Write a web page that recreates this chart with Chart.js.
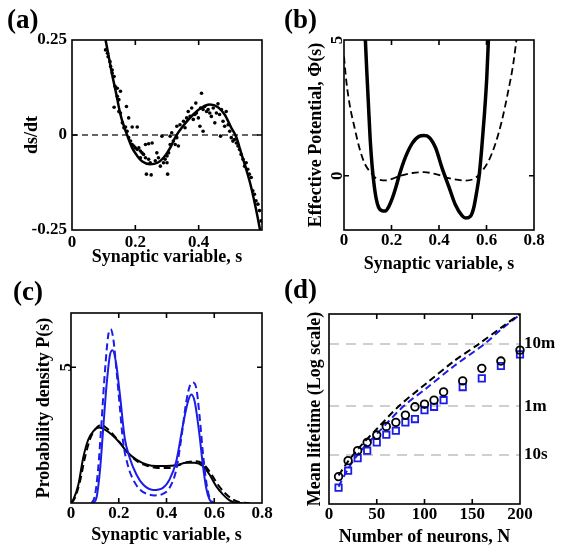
<!DOCTYPE html>
<html>
<head>
<meta charset="utf-8">
<script src="https://cdn.jsdelivr.net/npm/chart.js@4.4.1/dist/chart.umd.min.js"></script>
<style>
  body { margin:0; background:#fff; }
  #fig { position:relative; width:568px; height:550px; overflow:hidden; background:#fff; }
  #fig canvas { position:absolute; }
  .tag { position:absolute; font:bold 27px "Liberation Serif", serif; line-height:1; color:#000; }
</style>
</head>
<body>
<div id="fig">
  <canvas id="chartA" width="284" height="275" style="left:0;top:0;width:284px;height:275px"></canvas>
  <canvas id="chartB" width="284" height="275" style="left:284px;top:0;width:284px;height:275px"></canvas>
  <canvas id="chartC" width="284" height="275" style="left:0;top:275px;width:284px;height:275px"></canvas>
  <canvas id="chartD" width="284" height="275" style="left:284px;top:275px;width:284px;height:275px"></canvas>
  <div class="tag" style="left:7px;top:6px">(a)</div>
  <div class="tag" style="left:284px;top:6px">(b)</div>
  <div class="tag" style="left:13px;top:278px">(c)</div>
  <div class="tag" style="left:284px;top:276px">(d)</div>
</div>
<script>
// =======================
// DATA
// =======================
// (a) ds/dt vs s : simulation dots + fitted curve
const sDots = [0.106,0.112,0.114,0.120,0.122,0.127,0.127,0.133,0.136,0.143,0.153,0.143,0.148,0.133,0.148,0.172,0.179,0.153,0.159,0.164,0.169,0.190,0.206,0.174,0.179,0.185,0.190,0.195,0.200,0.206,0.211,0.216,0.221,0.232,0.242,0.253,0.226,0.216,0.232,0.242,0.247,0.263,0.268,0.273,0.279,0.289,0.294,0.300,0.305,0.300,0.235,0.250,0.302,0.284,0.310,0.315,0.310,0.320,0.326,0.331,0.336,0.331,0.341,0.352,0.357,0.362,0.367,0.373,0.378,0.383,0.388,0.393,0.391,0.399,0.404,0.409,0.414,0.406,0.414,0.419,0.425,0.430,0.435,0.440,0.446,0.451,0.456,0.461,0.466,0.472,0.477,0.487,0.482,0.493,0.469,0.498,0.503,0.508,0.513,0.519,0.524,0.529,0.534,0.540,0.545,0.550,0.555,0.560,0.566,0.571,0.576,0.581,0.587,0.592,0.597];
const vDots = [0.224,0.215,0.206,0.193,0.180,0.171,0.163,0.154,0.128,0.123,0.115,0.102,0.093,0.073,0.062,0.075,0.045,0.058,0.032,0.019,0.021,0.021,0.021,0.010,-0.007,-0.016,-0.025,-0.029,-0.034,-0.038,-0.034,-0.042,-0.047,-0.025,-0.023,-0.021,-0.051,-0.060,-0.060,-0.064,-0.073,-0.068,-0.047,-0.060,-0.082,-0.073,-0.064,-0.055,-0.047,-0.073,-0.103,-0.105,-0.103,-0.003,-0.003,0.006,-0.025,-0.016,-0.025,-0.007,-0.029,0.023,0.027,0.036,0.019,0.045,0.062,0.049,0.071,0.041,0.054,0.058,0.084,0.045,0.023,0.110,0.010,0.071,0.067,0.075,0.062,0.067,0.058,0.049,0.071,0.032,0.058,0.082,0.054,0.067,0.036,0.062,0.023,0.027,-0.003,0.010,-0.007,-0.016,-0.012,-0.021,-0.029,-0.038,-0.051,-0.064,-0.082,-0.073,-0.090,-0.103,-0.112,-0.147,-0.156,-0.173,-0.182,-0.199,-0.226];
const sFit = [0.106,0.117,0.127,0.138,0.153,0.164,0.174,0.190,0.206,0.222,0.247,0.270,0.289,0.310,0.326,0.352,0.378,0.404,0.435,0.461,0.482,0.503,0.519,0.534,0.550,0.566,0.581,0.594];
const vFit = [0.25,0.202,0.158,0.115,0.054,0.023,0,-0.034,-0.055,-0.070,-0.077,-0.073,-0.060,-0.034,-0.006,0.025,0.050,0.069,0.080,0.073,0.054,0.019,-0.006,-0.047,-0.090,-0.138,-0.195,-0.25];

// (b) effective potential
const sPhi = [0.090,0.096,0.103,0.110,0.118,0.125,0.135,0.146,0.160,0.174,0.188,0.204,0.220,0.232,0.260,0.288,0.316,0.337,0.358,0.386,0.413,0.441,0.469,0.497,0.513,0.532,0.546,0.559,0.569,0.580,0.591,0.601,0.608];
const phi = [5.0,3.84,2.61,1.38,0.40,-0.21,-0.82,-1.17,-1.29,-1.30,-1.15,-0.82,-0.38,0,0.71,1.20,1.45,1.48,1.42,1.02,0.28,-0.39,-1.07,-1.47,-1.56,-1.50,-1.19,-0.58,0,1.02,2.24,3.59,5.0];
const sPhiN = [0,0.010,0.024,0.045,0.065,0.086,0.114,0.135,0.177,0.232,0.288,0.337,0.386,0.441,0.511,0.552,0.580,0.608,0.636,0.664,0.691,0.712,0.726];
const phiN = [4.39,3.47,2.61,1.75,1.02,0.47,0.10,-0.09,-0.17,-0.02,0.10,0.13,0.06,-0.09,-0.18,-0.09,0.16,0.53,1.14,2.0,3.10,4.08,5.0];

// (c) probability density
const sBlue = [0.093,0.107,0.121,0.135,0.149,0.163,0.174,0.188,0.205,0.225,0.246,0.274,0.302,0.344,0.385,0.413,0.441,0.469,0.490,0.504,0.518,0.538,0.552,0.566,0.580,0.594];
const pBlue = [0,0.20,1.17,2.76,4.35,5.45,5.63,5.20,3.98,2.39,1.66,1.05,0.68,0.48,0.56,0.87,1.54,2.88,3.74,4.00,3.74,2.52,1.42,0.56,0.13,0];
const sBlueN = [0.086,0.100,0.114,0.128,0.142,0.156,0.166,0.177,0.191,0.205,0.218,0.239,0.260,0.288,0.323,0.351,0.385,0.413,0.441,0.462,0.483,0.499,0.511,0.525,0.538,0.552,0.566,0.580,0.597];
const pBlueN = [0,0.26,1.29,3.00,4.84,6.18,6.40,6.06,4.84,3.49,2.27,1.36,0.87,0.50,0.32,0.28,0.34,0.56,1.23,2.39,3.74,4.35,4.44,4.22,3.25,1.90,0.81,0.20,0];
const sBlack = [0,0.010,0.031,0.051,0.072,0.093,0.118,0.142,0.170,0.205,0.239,0.274,0.316,0.358,0.399,0.441,0.483,0.518,0.552,0.580,0.608,0.636,0.664,0.691,0.719];
const pBlack = [0,0.13,0.68,1.66,2.33,2.64,2.78,2.70,2.52,2.21,1.84,1.60,1.42,1.36,1.36,1.39,1.48,1.48,1.36,1.05,0.62,0.32,0.10,0.01,0];
const sBlackN = [0.003,0.017,0.038,0.058,0.079,0.100,0.128,0.149,0.177,0.212,0.246,0.281,0.323,0.365,0.406,0.448,0.490,0.525,0.559,0.587,0.615,0.643,0.678,0.712,0.747];
const pBlackN = [0,0.20,0.81,1.66,2.33,2.70,2.88,2.76,2.52,2.15,1.78,1.51,1.36,1.29,1.29,1.39,1.51,1.54,1.39,1.07,0.68,0.38,0.13,0.02,0];

// (d) mean lifetime (seconds) vs N
const nNeurons = [10,20,30,40,50,60,70,80,90,100,110,120,140,160,180,200];
const lifeCircle = [4.5,8.1,11.7,15.9,20.8,28.6,33.2,43.4,58.9,64.9,75.2,102,153,243,318,475];
const lifeSquare = [3.0,5.6,8.9,11.7,15.9,21.1,24.4,33.2,37.5,52.1,58.9,75.2,122,168,265,406];
const nTheoryBlack = [10,20,32,50,73,103,131,157,180,200];
const lifeTheoryBlack = [4.7,7.9,13.3,26,60,144,318,600,1080,1800];
const nTheoryBlue = [10,20,32,50,78,103,131,163,180,200];
const lifeTheoryBlue = [3.1,6.0,11,21.6,60,120,265,600,1014,1758];
const lifeTicks = [10, 60, 600];
const lifeTickLabels = ["10s", "1m", "10m"];

// =======================
// HELPERS
// =======================
const FONT = "'Liberation Serif', 'Times New Roman', serif";
const tickFont = {family: FONT, size: 17, weight: "bold"};
const titleFont = {family: FONT, size: 18, weight: "bold"};
const BLUE = "#1c1ce8";

function pts(xs, ys){
  return xs.map((x,i)=>({x:x, y:ys[i]}));
}

function fmt(v){
  return String(Math.round(v*100)/100);
}

function curve(data, color, width, dash){
  return {
    type:"line", data:data, borderColor:color, borderWidth:width,
    borderDash:dash || [], pointRadius:0, fill:false,
    cubicInterpolationMode:"monotone", clip:0
  };
}

function xAxis(min, max, ticks, boxH, tickPad, text, titlePad){
  return {
    type:"linear", min:min, max:max,
    afterBuildTicks: ax => { ax.ticks = ticks.map(v=>({value:v})); },
    afterFit: ax => { ax.height = boxH; },
    grid:{display:false, drawTicks:false}, border:{display:false},
    ticks:{font:tickFont, color:"#000", padding:tickPad, maxRotation:0, autoSkip:false, callback:v=>fmt(v)},
    title:{display:true, text:text, font:titleFont, color:"#000", padding:{top:0, bottom:titlePad}}
  };
}

function yAxis(min, max, ticks, boxW, tickPad, text, titlePad, rotated){
  return {
    type:"linear", min:min, max:max,
    afterBuildTicks: ax => { ax.ticks = ticks.map(v=>({value:v})); },
    afterFit: ax => { ax.width = boxW; },
    grid:{display:false, drawTicks:false}, border:{display:false},
    ticks:{
      font:tickFont, color:"#000", padding:tickPad, autoSkip:false,
      minRotation: rotated ? 90 : 0, maxRotation: rotated ? 90 : 0,
      crossAlign: rotated ? "center" : "near",
      callback:v=>fmt(v)
    },
    title:{display:true, text:text, font:titleFont, color:"#000", padding:{top:titlePad, bottom:0}}
  };
}

// box round the plot + small inward tick marks
const framePlugin = {
  id:"frame",
  afterDatasetsDraw(chart, args, opts){
    const {ctx, chartArea:a, scales} = chart;
    const len = 5;
    ctx.save();
    ctx.strokeStyle = "#000";
    ctx.lineWidth = 1.6;
    ctx.strokeRect(a.left, a.top, a.right - a.left, a.bottom - a.top);
    ctx.beginPath();
    (opts.xTicks || []).forEach(v=>{
      const px = scales.x.getPixelForValue(v);
      ctx.moveTo(px, a.bottom); ctx.lineTo(px, a.bottom - len);
      ctx.moveTo(px, a.top); ctx.lineTo(px, a.top + len);
    });
    (opts.yTicks || []).forEach(v=>{
      const py = scales.y.getPixelForValue(v);
      ctx.moveTo(a.left, py); ctx.lineTo(a.left + len, py);
      ctx.moveTo(a.right, py); ctx.lineTo(a.right - len, py);
    });
    ctx.stroke();
    ctx.restore();
  }
};

function baseOptions(padding, scales, frame){
  return {
    responsive:false, animation:false, devicePixelRatio:1,
    layout:{padding:padding},
    plugins:{legend:{display:false}, tooltip:{enabled:false}, frame:frame},
    scales:scales
  };
}

// =======================
// (a)
// =======================
new Chart(document.getElementById("chartA"), {
  type:"line",
  data:{datasets:[
    curve(pts(sFit, vFit), "#000", 2.5),
    {type:"scatter", data:pts(sDots, vDots), pointRadius:1.8, pointBackgroundColor:"#000", pointBorderWidth:0, showLine:false, clip:0},
    curve([{x:0,y:0},{x:0.6,y:0}], "#333", 1.5, [6,4])
  ]},
  options: baseOptions({left:0, top:40, right:22, bottom:0}, {
    x: xAxis(0, 0.6, [0, 0.2, 0.4], 45, 2, "Synaptic variable, s", 7),
    y: yAxis(-0.25, 0.25, [-0.25, 0, 0.25], 72, 5, "ds/dt", 22, false)
  }, {xTicks:[0.2, 0.4], yTicks:[0]}),
  plugins:[framePlugin]
});

// =======================
// (b)
// =======================
new Chart(document.getElementById("chartB"), {
  type:"line",
  data:{datasets:[
    curve(pts(sPhi, phi), "#000", 3.5),
    curve(pts(sPhiN, phiN), "#000", 1.8, [7,4])
  ]},
  options: baseOptions({left:0, top:40, right:34, bottom:0}, {
    x: xAxis(0, 0.8, [0, 0.2, 0.4, 0.6, 0.8], 45, 0, "Synaptic variable, s", 0),
    y: yAxis(-2, 5, [0, 5], 60, 2, "Effective Potential, \u03A6(s)", 22, true)
  }, {xTicks:[0.2, 0.4, 0.6], yTicks:[0]}),
  plugins:[framePlugin]
});

// =======================
// (c)
// =======================
new Chart(document.getElementById("chartC"), {
  type:"line",
  data:{datasets:[
    curve(pts(sBlue, pBlue), BLUE, 2),
    curve(pts(sBlueN, pBlueN), BLUE, 2, [7,4]),
    curve(pts(sBlack, pBlack), "#000", 2),
    curve(pts(sBlackN, pBlackN), "#000", 2, [7,4])
  ]},
  options: baseOptions({left:0, top:38, right:22, bottom:0}, {
    x: xAxis(0, 0.8, [0, 0.2, 0.4, 0.6, 0.8], 47, 0, "Synaptic variable, s", 4),
    y: yAxis(0, 7, [5], 71, 0, "Probability density P(s)", 34, true)
  }, {xTicks:[0.2, 0.4, 0.6], yTicks:[5]}),
  plugins:[framePlugin]
});

// =======================
// (d)
// =======================
new Chart(document.getElementById("chartD"), {
  type:"line",
  data:{datasets:[
    {type:"scatter", data:pts(nNeurons, lifeCircle), pointStyle:"circle", pointRadius:3.8, pointBorderWidth:1.8, pointBorderColor:"#000", pointBackgroundColor:"rgba(0,0,0,0)", showLine:false, clip:false},
    {type:"scatter", data:pts(nNeurons, lifeSquare), pointStyle:"rect", pointRadius:4.5, pointBorderWidth:1.8, pointBorderColor:BLUE, pointBackgroundColor:"rgba(0,0,0,0)", showLine:false, clip:false},
    Object.assign(curve(pts(nTheoryBlack, lifeTheoryBlack), "#000", 2, [7,4]), {cubicInterpolationMode:"default", tension:0.3}),
    Object.assign(curve(pts(nTheoryBlue, lifeTheoryBlue), BLUE, 2, [7,4]), {cubicInterpolationMode:"default", tension:0.3})
  ]},
  options: baseOptions({left:0, top:39, right:0, bottom:0}, {
    x: xAxis(0, 200, [0, 50, 100, 150, 200], 46, 0, "Number of neurons, N", 2),
    y: {
      type:"logarithmic", min:1.64, max:1800, position:"left",
      afterFit: ax => { ax.width = 45; },
      grid:{display:false, drawTicks:false}, border:{display:false},
      ticks:{display:false},
      title:{display:true, text:"Mean lifetime (Log scale)", font:titleFont, color:"#000", padding:{top:21, bottom:0}}
    },
    y2: {
      type:"logarithmic", min:1.64, max:1800, position:"right",
      afterBuildTicks: ax => { ax.ticks = lifeTicks.map(v=>({value:v})); },
      afterFit: ax => { ax.width = 48; },
      grid:{color:"#cfcfcf", lineWidth:2, drawTicks:false},
      border:{display:false, dash:[10,7]},
      ticks:{font:{family:FONT, size:17, weight:"bold"}, color:"#000", padding:4, autoSkip:false,
        callback: v => lifeTickLabels[lifeTicks.indexOf(v)]}
    }
  }, {xTicks:[50, 100, 150]}),
  plugins:[framePlugin]
});
</script>
</body>
</html>
